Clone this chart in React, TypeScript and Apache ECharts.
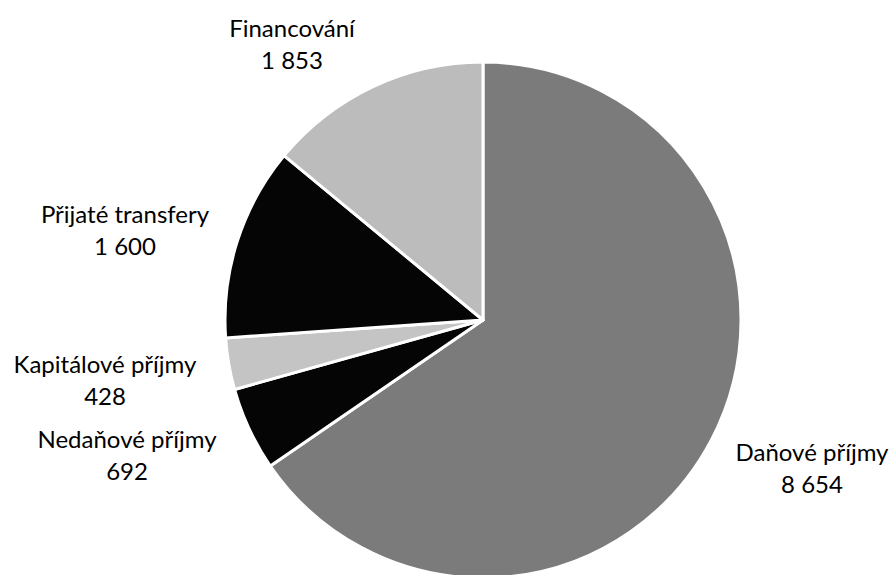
import React, { useEffect, useRef } from "react";
import * as echarts from "echarts";

const categories = ["Daňové příjmy", "Nedaňové příjmy", "Kapitálové příjmy", "Přijaté transfery", "Financování"];
const values = [8654, 692, 428, 1600, 1853];
const valueLabels = ["8 654", "692", "428", "1 600", "1 853"];
const sliceColors = ["#7b7b7b", "#050505", "#c4c4c4", "#050505", "#bcbcbc"];
const labelCenters: [number, number][] = [
  [812, 467],
  [127, 454],
  [105, 379],
  [125, 229],
  [292, 43],
];

export default function App() {
  const ref = useRef<HTMLDivElement>(null);
  useEffect(() => {
    if (!ref.current) return;
    const chart = echarts.init(ref.current, undefined, { renderer: "svg" });
    chart.setOption({
      animation: false,
      backgroundColor: "#ffffff",
      series: [
        {
          type: "pie",
          center: [483, 320],
          radius: 258,
          startAngle: 90,
          clockwise: true,
          avoidLabelOverlap: false,
          itemStyle: { borderColor: "#ffffff", borderWidth: 3 },
          label: {
            show: true,
            position: "outside",
            formatter: (p: any) => `${categories[p.dataIndex]}\n${valueLabels[p.dataIndex]}`,
            fontFamily: "Lato",
            fontSize: 24,
            lineHeight: 32,
            color: "#000000",
            align: "center",
          },
          labelLine: { show: false },
          labelLayout: (p: any) => ({
            x: labelCenters[p.dataIndex][0],
            y: labelCenters[p.dataIndex][1],
            align: "center",
            verticalAlign: "middle",
          }),
          data: categories.map((c, i) => ({
            name: c,
            value: values[i],
            itemStyle: { color: sliceColors[i] },
          })),
        },
      ],
    });
    return () => chart.dispose();
  }, []);
  return (
    <div
      ref={ref}
      style={{ position: "fixed", left: 0, top: 0, width: 896, height: 575 }}
    />
  );
}
